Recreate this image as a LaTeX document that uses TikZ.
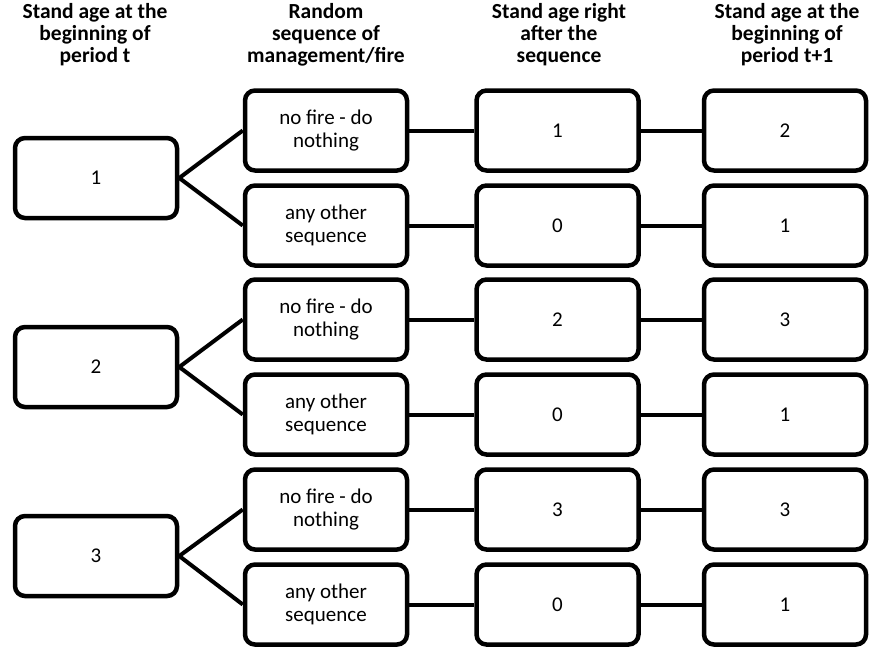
\documentclass[tikz,border=0pt]{standalone}
\usepackage{fontspec}
\setmainfont{Carlito}

\begin{document}
\begin{tikzpicture}[x=1pt,y=-1pt,
 agebox/.style={draw,line width=4.5pt,rounded corners=10pt,minimum width=162pt,minimum height=80pt,align=center,font=\fontsize{21}{22.7}\selectfont},
 head/.style={align=center,anchor=north,inner sep=0pt,font=\fontsize{21.5}{22}\selectfont\bfseries},
 link/.style={line width=4pt}
]
\useasboundingbox (0,0) rectangle (869,651);
% column headings
\node[head] (h1) at (95,3) {Stand age at the\\beginning of\\period t};
\node[head] (h2) at (326,3) {Random\\sequence of\\management/fire};
\node[head] (h3) at (559,3) {Stand age right\\after the\\sequence};
\node[head] (h4) at (787,3) {Stand age at the\\beginning of\\period t+1};
% stand age at t
\node[agebox] (s1) at (96,178) {1}; \node[agebox] (s2) at (96,367) {2}; \node[agebox] (s3) at (96,556) {3};
% sequences
\node[agebox] (q1) at (326,130.5) {no fire - do\\nothing}; \node[agebox] (q2) at (326,225.5) {any other\\sequence};
\node[agebox] (q3) at (326,319.5) {no fire - do\\nothing}; \node[agebox] (q4) at (326,414.5) {any other\\sequence};
\node[agebox] (q5) at (326,509.5) {no fire - do\\nothing}; \node[agebox] (q6) at (326,604.5) {any other\\sequence};
% age right after
\node[agebox] (r1) at (557.5,130.5) {1}; \node[agebox] (r2) at (557.5,225.5) {0};
\node[agebox] (r3) at (557.5,319.5) {2}; \node[agebox] (r4) at (557.5,414.5) {0};
\node[agebox] (r5) at (557.5,509.5) {3}; \node[agebox] (r6) at (557.5,604.5) {0};
% age at t+1
\node[agebox] (n1) at (785,130.5) {2}; \node[agebox] (n2) at (785,225.5) {1};
\node[agebox] (n3) at (785,319.5) {3}; \node[agebox] (n4) at (785,414.5) {1};
\node[agebox] (n5) at (785,509.5) {3}; \node[agebox] (n6) at (785,604.5) {1};
% branches
\draw[link] (s1.east)--(q1.west); \draw[link] (s1.east)--(q2.west);
\draw[link] (s2.east)--(q3.west); \draw[link] (s2.east)--(q4.west);
\draw[link] (s3.east)--(q5.west); \draw[link] (s3.east)--(q6.west);
\foreach \i in {1,...,6} {
  \draw[link] (q\i)--(r\i); \draw[link] (r\i)--(n\i);
}
\end{tikzpicture}
\end{document}
